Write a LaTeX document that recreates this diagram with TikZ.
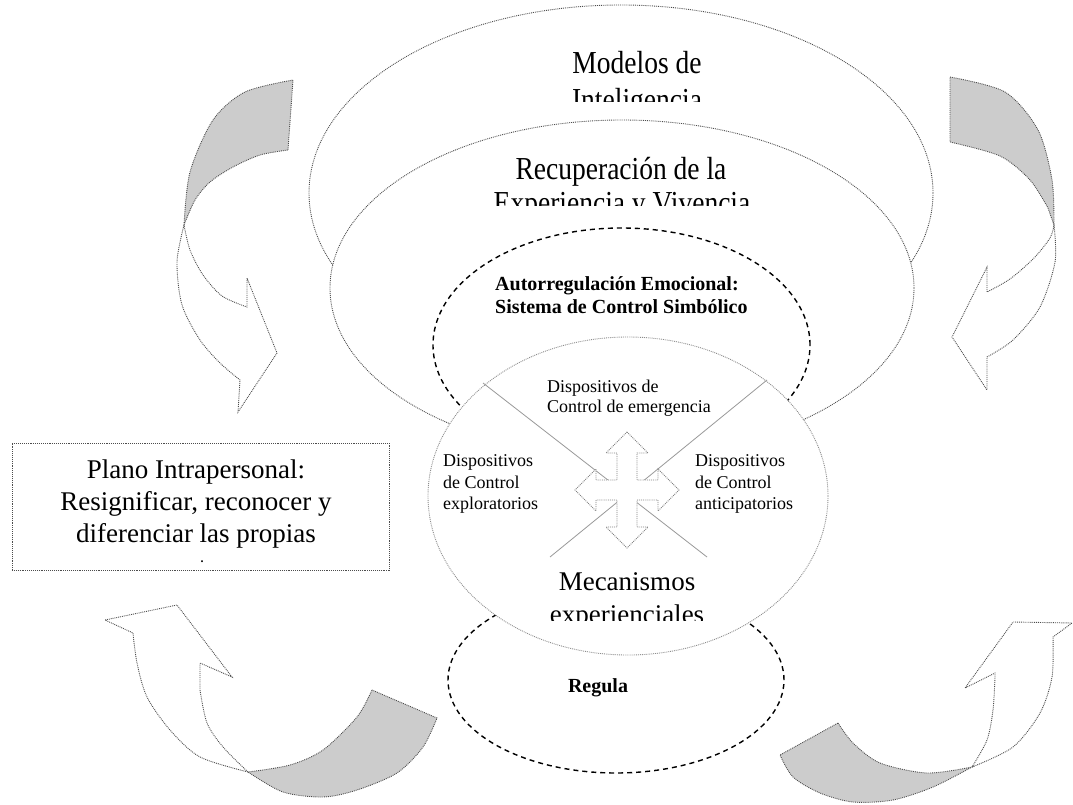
\documentclass[tikz,border=0pt]{standalone}
\usepackage{fontspec}
\setmainfont{Liberation Serif}
\newfontfamily\condserif[FakeStretch=0.86]{Liberation Serif}
\usetikzlibrary{shapes.geometric}

\tikzset{
  ovalshape/.style={ellipse, draw=black!70, densely dotted, line width=.9pt, fill=white, inner sep=0pt},
  dashoval/.style={ellipse, draw=black, dash pattern=on 5pt off 4pt, line width=1.4pt, fill=white, inner sep=0pt},
  grayband/.style={draw=black!70, densely dotted, line width=.9pt, fill=black!20},
  arrowbody/.style={draw=black!70, densely dotted, line width=.9pt, fill=white},
  crossline/.style={draw=black!40, line width=.8pt},
  lbl/.style={inner sep=0pt, anchor=base},
  bigtxt/.style={lbl, font=\condserif\fontsize{32}{38}\selectfont},
  midtxt/.style={lbl, font=\fontsize{27}{33}\selectfont},
  smalltxt/.style={lbl, anchor=base west, font=\fontsize{18}{21}\selectfont},
  boldtxt/.style={lbl, font=\bfseries\fontsize{20}{23}\selectfont},
}

\begin{document}
\begin{tikzpicture}[x=1pt, y=-1pt]
  \useasboundingbox (0,0) rectangle (1073,805);

  % outer ovals
  \node[ovalshape, minimum width=624pt, minimum height=376pt] (modelos) at (621,193) {};
  \begin{scope}
    \clip (400,0) rectangle (900,102);
    \node[bigtxt] (tmod1) at (637,74) {Modelos de};
    \node[bigtxt] (tmod2) at (637,111) {Inteligencia};
  \end{scope}

  \node[ovalshape, minimum width=584pt, minimum height=336pt] (recup) at (622,288) {};
  \begin{scope}
    \clip (400,120) rectangle (900,206);
    \node[bigtxt] (trec1) at (621,180) {Recuperación de la};
    \node[bigtxt] (trec2) at (622,214) {Experiencia y Vivencia};
  \end{scope}

  \node[dashoval, minimum width=377pt, minimum height=234pt] (autoreg) at (621.5,345) {};
  \node[boldtxt, anchor=base west] (taut1) at (495,290) {Autorregulación Emocional:};
  \node[boldtxt, anchor=base west] (taut2) at (495,313) {Sistema de Control Simbólico};

  \node[dashoval, minimum width=336pt, minimum height=186pt] (regula) at (616,680) {};
  \node[boldtxt] (treg) at (598,692) {Regula};

  % centre circle
  \node[ovalshape, draw=black!45, minimum width=400pt, minimum height=318pt] (mecan) at (628,496) {};
  \coordinate (xa) at (483,383);
  \coordinate (xb) at (707,557);
  \coordinate (xc) at (767,380);
  \coordinate (xd) at (550,557);
  \draw[crossline] (xa) -- (xb);
  \draw[crossline] (xc) -- (xd);
  \draw[arrowbody, draw=black!50, shift={(627,490)}]
    (0,-58) -- (21,-37) -- (10,-37) -- (10,-10) -- (31,-10) -- (31,-21) -- (52,0)
    -- (31,21) -- (31,10) -- (10,10) -- (10,37) -- (21,37) -- (0,58)
    -- (-21,37) -- (-10,37) -- (-10,10) -- (-31,10) -- (-31,21) -- (-52,0)
    -- (-31,-21) -- (-31,-10) -- (-10,-10) -- (-10,-37) -- (-21,-37) -- cycle;

  \node[smalltxt] (teme1) at (547,392) {Dispositivos de};
  \node[smalltxt] (teme2) at (547,412) {Control de emergencia};
  \node[smalltxt] (texp1) at (443,466) {Dispositivos};
  \node[smalltxt] (texp2) at (443,488) {de Control};
  \node[smalltxt] (texp3) at (443,509) {exploratorios};
  \node[smalltxt] (tant1) at (695,466) {Dispositivos};
  \node[smalltxt] (tant2) at (695,488) {de Control};
  \node[smalltxt] (tant3) at (695,509) {anticipatorios};
  \begin{scope}
    \clip (450,540) rectangle (800,620);
    \node[midtxt] (tmec1) at (627,590) {Mecanismos};
    \node[midtxt] (tmec2) at (627,623) {experienciales};
  \end{scope}

  % box
  \node[draw=black!70, densely dotted, line width=.9pt, fill=white, inner sep=0pt,
        minimum width=377pt, minimum height=127pt] (plano) at (200.5,506.5) {};
  \node[midtxt] (tpla1) at (196,478) {Plano Intrapersonal:};
  \node[midtxt] (tpla2) at (196,510) {Resignificar, reconocer y};
  \node[midtxt] (tpla3) at (196,542) {diferenciar las propias};
  \node[lbl, font=\bfseries\fontsize{12}{14}\selectfont] (tpla4) at (202,562) {.};

  % side arrows
  \draw[arrowbody] plot[smooth] coordinates {(184,225) (177,262) (182,305) (200,340) (220,363) (240,380)}
    -- (238,412) -- (277,353) -- (247,278)
    -- plot[smooth] coordinates {(247,307) (222,296) (203,275) (190,250) (184,225)} -- cycle;
  \draw[grayband] plot[smooth] coordinates {(184,225) (190,172) (213,120) (245,92) (293,80)}
    -- plot[smooth] coordinates {(288,150) (260,155) (233,167) (210,182) (195,200) (184,225)} -- cycle;

  \draw[arrowbody] plot[smooth] coordinates {(1054,225) (1055,262) (1040,307) (1013,340) (987,357)}
    -- (987,390) -- (952,337) -- (987,267)
    -- plot[smooth] coordinates {(987,292) (1010,279) (1034,258) (1050,238) (1054,225)} -- cycle;
  \draw[grayband] plot[smooth] coordinates {(950,77) (1005,92) (1038,130) (1052,180) (1054,225)}
    -- plot[smooth] coordinates {(1048,208) (1030,180) (1000,156) (950,142)} -- cycle;

  \draw[arrowbody] plot[smooth] coordinates {(248,772) (200,757) (170,730) (147,697) (137,663) (133,633)}
    -- (105,620) -- (177,605) -- (232,677) -- (200,663)
    -- plot[smooth] coordinates {(200,690) (207,723) (223,747) (248,772)} -- cycle;
  \draw[grayband] plot[smooth] coordinates {(372,690) (357,717) (323,750) (290,765) (248,772)}
    -- plot[smooth] coordinates {(248,772) (283,792) (323,797) (357,790) (397,773) (423,747) (437,718)} -- cycle;

  \draw[arrowbody] plot[smooth] coordinates {(972,767) (1013,747) (1040,713) (1052,677) (1053,637)}
    -- (1072,623) -- (1013,622) -- (965,688) -- (995,673)
    -- plot[smooth] coordinates {(995,677) (993,710) (987,740) (972,767)} -- cycle;
  \draw[grayband] plot[smooth] coordinates {(838,723) (853,743) (880,763) (927,773) (972,767)}
    -- plot[smooth] coordinates {(972,767) (933,787) (893,800) (853,802) (820,793) (793,777) (780,755)} -- cycle;
\end{tikzpicture}
\end{document}
